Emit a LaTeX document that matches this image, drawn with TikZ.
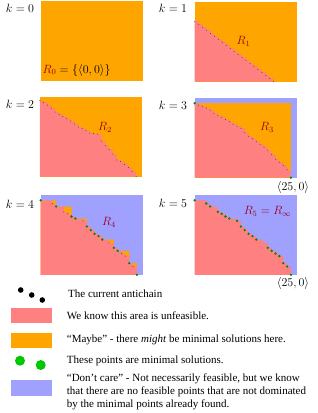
\documentclass[tikz,border=0pt]{standalone}
\usepackage[no-math]{fontspec}
\newfontfamily\legfont{Liberation Serif}
\definecolor{pinkc}{RGB}{255,128,128}
\definecolor{orangec}{RGB}{255,165,0}
\definecolor{bluec}{RGB}{160,160,255}
\definecolor{greenc}{RGB}{0,200,0}
\definecolor{gdotc}{RGB}{0,135,0}
\definecolor{rlabc}{RGB}{150,0,25}
\def\finallist{3/71.3,4/68.3,6/63,7/61,8/58.3,9/56.3,11/54,12/48.3,13/44.7,14/41,15/38.7,16/35.3,17.7/32,19/27,20/24,21/21.3,22/18.7,23/11.7,24/8.3,25/0}
\def\greenlist{0/74.5,3/71.3,4/68.3,6/63,7/61,8/58.3,9/56.3,11/54,12/48.3,13/44.7,14/41,15/38.7,16/35.3,19/27,20/24,21/21.3,22/18.7,23/11.7,24/8.3,25/0}
\begin{document}
\begin{tikzpicture}[x=1pt,y=-1pt,
  panel/.style={x=3.85pt,y=1pt},
  adot/.style={fill=black!75},
  gdot/.style={fill=gdotc},
  klab/.style={font=\fontsize{12}{14}\selectfont,anchor=east,inner sep=0pt},
  rlab/.style={text=rlabc,font=\fontsize{12}{14}\selectfont,inner sep=0pt},
  ptlab/.style={font=\fontsize{11.5}{14}\selectfont,inner sep=0pt},
  legtext/.style={font=\legfont\fontsize{11}{13.3}\selectfont,anchor=west,inner sep=0pt,align=left}]
\useasboundingbox (0,0) rectangle (318,413);

% ---------- k = 0 ----------
\begin{scope}[shift={(40.5,80.5)},panel]
  \fill[orangec] (0,0) rectangle (26.62,80);
\end{scope}
\node[klab] (k0) at (34.3,8.5) {$k=0$};
\node[inner sep=0pt,anchor=west,font=\fontsize{12}{14}\selectfont] (r0) at (42.5,70) {$\color{rlabc}R_0\color{black} = \{\langle 0,0\rangle\}$};

% ---------- k = 1 ----------
\begin{scope}[shift={(194.7,81.5)},x=3.95pt,y=1pt]
  \fill[orangec] (0,0) rectangle (25.95,80);
  \fill[pinkc] (0,0) -- (0,60.3) \foreach \i in {1,...,20} { -| (\i,{60.3-3.015*\i}) } -- cycle;
  \foreach \i in {0,...,20} \fill[adot] (\i,{60.3-3.015*\i}) circle (0.5pt);
\end{scope}
\node[klab] (k1) at (187.3,8.7) {$k=1$};
\node[rlab] (r1) at (243.5,41.5) {$R_1$};

% ---------- k = 2 ----------
\begin{scope}[shift={(39.8,176.5)},panel]
  \fill[orangec] (0,0) rectangle (26.62,80);
  \fill[pinkc] (0,0) -- (0,76) \foreach \i/\y in {1/74,2/71.5,3/68.5,4/64.5,5/62,6/60,7/58,8/55.5,9/52.5,10/49.5,11/48,12/46,13/43.5,14/43,15/42.5,16/35.5,17/31,18/27,19/22.5,20/16.5,21/15,22/12,23/9,24/5,25/0} { -| (\i,\y) } -- cycle;
  \foreach \i/\y in {0/76,1/74,2/71.5,3/68.5,4/64.5,5/62,6/60,7/58,8/55.5,9/52.5,10/49.5,11/48,12/46,13/43.5,14/43,15/42.5,16/35.5,17/31,18/27,19/22.5,20/16.5,21/15,22/12,23/9,24/5,25/0} \fill[adot] (\i,\y) circle (0.5pt);
\end{scope}
\node[klab] (k2) at (34.3,104.7) {$k=2$};
\node[rlab] (r2) at (105,127.5) {$R_2$};

% ---------- k = 3 ----------
\begin{scope}[shift={(194.7,177.7)},panel]
  \fill[bluec] (0,0) rectangle (26.62,80);
  \fill[orangec] (0,0) rectangle (25,74.5);
  \fill[pinkc] (0,0) -- (0,74.5) \foreach \i/\y in {1/72.5,2/71,3/69.5,4/67.5,5/64.5,6/62,7/60.5,8/58,9/56,10/53.5,11/51.5,12/49.5,13/45,14/41.5,15/39,16/36,17/33,18/30.5,19/27,20/23,21/18.5,22/15.5,23/12,24/8,25/0} { -| (\i,\y) } -- cycle;
  \foreach \i/\y in {1/72.5,2/71,3/69.5,4/67.5,5/64.5,6/62,7/60.5,8/58,9/56,10/53.5,11/51.5,12/49.5,13/45,14/41.5,15/39,16/36,17/33,18/30.5,19/27,20/23,21/18.5,22/15.5,23/12,24/8} \fill[adot] (\i,\y) circle (0.5pt);
  \fill[gdot] (0,74.5) circle (1.3pt);
  \fill[gdot] (25,0) circle (1.3pt);
\end{scope}
\node[klab] (k3) at (187.3,105.5) {$k=3$};
\node[rlab] (r3) at (267,127.5) {$R_3$};
\node[ptlab] (p3) at (293,187) {$\langle 25,0\rangle$};

% ---------- k = 4 ----------
\begin{scope}[shift={(40.7,274.8)},panel]
  \fill[bluec] (0,0) rectangle (26.62,80);
  \fill[orangec] (0,0) -- (0,74.5) -| (4,68.3) -| (8,58.3) -| (9,56.3) -| (12,48.3) -| (13,44.7) -| (14,41) -| (15,38.7) -| (16,35.3) -| (19,27) -| (20,24) -| (23,11.7) -| (25,0) -- cycle;
  \fill[pinkc] (0,0) -- (0,74.5) \foreach \i/\y in \finallist { -| (\i,\y) } -- cycle;
  \foreach \i/\y in {3/71.3,6/63,7/61,11/54,17.7/32,21/21.3,22/18.7,24/8.3} \fill[adot] (\i,\y) circle (0.5pt);
  \foreach \i/\y in {0/74.5,4/68.3,8/58.3,9/56.3,12/48.3,13/44.7,14/41,15/38.7,16/35.3,19/27,20/24,23/11.7,25/0} \fill[gdot] (\i,\y) circle (1.3pt);
\end{scope}
\node[klab] (k4) at (34.3,204.5) {$k=4$};
\node[rlab] (r4) at (109,222.5) {$R_4$};

% ---------- k = 5 ----------
\begin{scope}[shift={(194.7,274.8)},panel]
  \fill[bluec] (0,0) rectangle (26.62,80);
  \fill[pinkc] (0,0) -- (0,74.5) \foreach \i/\y in \finallist { -| (\i,\y) } -- cycle;
  \foreach \i/\y in \greenlist \fill[gdot] (\i,\y) circle (1.3pt);
\end{scope}
\node[klab] (k5) at (187.3,203) {$k=5$};
\node[rlab] (r5) at (267.5,211) {$R_5=R_\infty$};
\node[ptlab] (p5) at (293,283.5) {$\langle 25,0\rangle$};

% ---------- legend ----------
\fill[black] (20.7,290) circle (2.8pt);
\fill[black] (31.7,295) circle (2.8pt);
\fill[black] (42.3,300) circle (2.8pt);
\node[legtext] (l1) at (68,294) {The current antichain};
\fill[pinkc] (11,308.3) rectangle (51.7,323.3);
\node[legtext] (l2) at (66.7,316) {We know this area is unfeasible.};
\fill[orangec] (11,333.3) rectangle (51.7,348.3);
\node[legtext] (l3) at (66.7,340) {“Maybe” - there \textit{might} be minimal solutions here.};
\fill[greenc] (20,360.7) circle (5pt);
\fill[greenc] (40.7,365) circle (5pt);
\node[legtext] (l4) at (66.7,360.7) {These points are minimal solutions.};
\fill[bluec] (11,380) rectangle (51.7,395.7);
\node[legtext] (l5) at (66.7,392) {“Don’t care” - Not necessarily feasible, but we know\\that there are no feasible points that are not dominated\\by the minimal points already found.};
\end{tikzpicture}
\end{document}
